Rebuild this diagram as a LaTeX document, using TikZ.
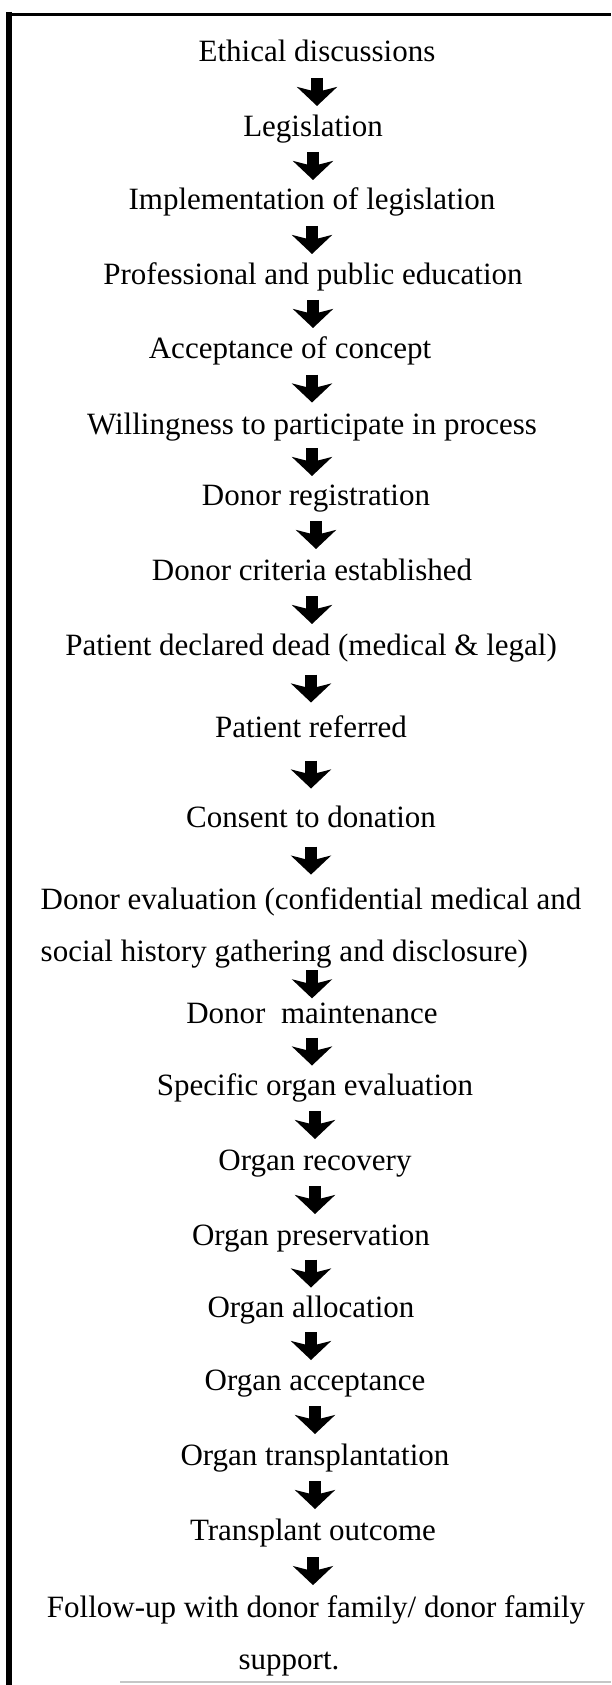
\documentclass[tikz,border=0pt]{standalone}
\usepackage{fontspec}
\setmainfont{Liberation Serif}
\usetikzlibrary{arrows.meta,calc}

\begin{document}
\begin{tikzpicture}[x=1pt,y=1pt]
\tikzset{etape/.style={inner sep=0pt, anchor=base, text height=22pt, text depth=7pt, font=\fontsize{31}{52}\selectfont},
  bloc/.style={inner sep=0pt, anchor=north, font=\fontsize{31}{52}\selectfont},
  fleche/.style={line width=12pt, -{Stealth[length=19pt, width=40pt, inset=5pt]}}}
\useasboundingbox (0,0) rectangle (611,-1685);
% cadre
\draw[line width=6pt] (8.5,-12) -- (8.5,-1685);
\draw[line width=2.5pt] (6,-14.5) -- (611,-14.5);
\draw[line width=1.5pt, gray!45] (120,-1682) -- (611,-1682);
\node[etape] (E1) at (317,-62) {Ethical discussions};
\node[etape] (E2) at (313,-137) {Legislation};
\node[etape] (E3) at (312,-210) {Implementation of legislation};
\node[etape] (E4) at (313,-285) {Professional and public education};
\node[etape] (E5) at (290,-358) {Acceptance of concept};
\node[etape] (E6) at (312,-434) {Willingness to participate in process};
\node[etape] (E7) at (316,-505) {Donor registration};
\node[etape] (E8) at (312,-580) {Donor criteria established};
\node[etape] (E9) at (311,-655) {Patient declared dead (medical \& legal)};
\node[etape] (E10) at (311,-737) {Patient referred};
\node[etape] (E11) at (311,-827) {Consent to donation};
\node[bloc, align=left] (E12) at (311,-887) {Donor evaluation (confidential medical and\\social history gathering and disclosure)};
\node[etape] (E13) at (312,-1023) {Donor \ maintenance};
\node[etape] (E14) at (315,-1095) {Specific organ evaluation};
\node[etape] (E15) at (315,-1170) {Organ recovery};
\node[etape] (E16) at (311,-1245) {Organ preservation};
\node[etape] (E17) at (311,-1317) {Organ allocation};
\node[etape] (E18) at (315,-1390) {Organ acceptance};
\node[etape] (E19) at (315,-1465) {Organ transplantation};
\node[etape] (E20) at (313,-1540) {Transplant outcome};
\node[bloc, align=center] (E21) at (316,-1595) {Follow-up with donor family/ donor family\\\hspace*{-54pt}support.};
% fleches
\draw[fleche] ($(E1.south)!.5!(E2.north -| E1.south)+(0,14)$) -- ($(E1.south)!.5!(E2.north -| E1.south)-(0,14)$);
\draw[fleche] ($(E2.south)!.5!(E3.north -| E2.south)+(0,14)$) -- ($(E2.south)!.5!(E3.north -| E2.south)-(0,14)$);
\draw[fleche] ($(E3.south)!.5!(E4.north -| E3.south)+(0,14)$) -- ($(E3.south)!.5!(E4.north -| E3.south)-(0,14)$);
\draw[fleche] ($(E4.south)!.5!(E5.north -| E4.south)+(0,14)$) -- ($(E4.south)!.5!(E5.north -| E4.south)-(0,14)$);
\draw[fleche] ($(E6.north)!.5!(E5.south -| E6.north)+(0,14)$) -- ($(E6.north)!.5!(E5.south -| E6.north)-(0,14)$);
\draw[fleche] ($(E6.south)!.5!(E7.north -| E6.south)+(0,14)$) -- ($(E6.south)!.5!(E7.north -| E6.south)-(0,14)$);
\draw[fleche] ($(E7.south)!.5!(E8.north -| E7.south)+(0,14)$) -- ($(E7.south)!.5!(E8.north -| E7.south)-(0,14)$);
\draw[fleche] ($(E8.south)!.5!(E9.north -| E8.south)+(0,14)$) -- ($(E8.south)!.5!(E9.north -| E8.south)-(0,14)$);
\draw[fleche] ($(E9.south)!.5!(E10.north -| E9.south)+(0,14)$) -- ($(E9.south)!.5!(E10.north -| E9.south)-(0,14)$);
\draw[fleche] ($(E10.south)!.5!(E11.north -| E10.south)+(0,14)$) -- ($(E10.south)!.5!(E11.north -| E10.south)-(0,14)$);
\draw[fleche] ($(E11.south)!.5!(E12.north -| E11.south)+(0,14)$) -- ($(E11.south)!.5!(E12.north -| E11.south)-(0,14)$);
\draw[fleche] ($(E13.north)!.5!(E12.south -| E13.north)+(0,14)$) -- ($(E13.north)!.5!(E12.south -| E13.north)-(0,14)$);
\draw[fleche] ($(E13.south)!.5!(E14.north -| E13.south)+(0,14)$) -- ($(E13.south)!.5!(E14.north -| E13.south)-(0,14)$);
\draw[fleche] ($(E14.south)!.5!(E15.north -| E14.south)+(0,14)$) -- ($(E14.south)!.5!(E15.north -| E14.south)-(0,14)$);
\draw[fleche] ($(E15.south)!.5!(E16.north -| E15.south)+(0,14)$) -- ($(E15.south)!.5!(E16.north -| E15.south)-(0,14)$);
\draw[fleche] ($(E16.south)!.5!(E17.north -| E16.south)+(0,14)$) -- ($(E16.south)!.5!(E17.north -| E16.south)-(0,14)$);
\draw[fleche] ($(E17.south)!.5!(E18.north -| E17.south)+(0,14)$) -- ($(E17.south)!.5!(E18.north -| E17.south)-(0,14)$);
\draw[fleche] ($(E18.south)!.5!(E19.north -| E18.south)+(0,14)$) -- ($(E18.south)!.5!(E19.north -| E18.south)-(0,14)$);
\draw[fleche] ($(E19.south)!.5!(E20.north -| E19.south)+(0,14)$) -- ($(E19.south)!.5!(E20.north -| E19.south)-(0,14)$);
\draw[fleche] ($(E20.south)!.5!(E21.north -| E20.south)+(0,14)$) -- ($(E20.south)!.5!(E21.north -| E20.south)-(0,14)$);
\end{tikzpicture}
\end{document}
